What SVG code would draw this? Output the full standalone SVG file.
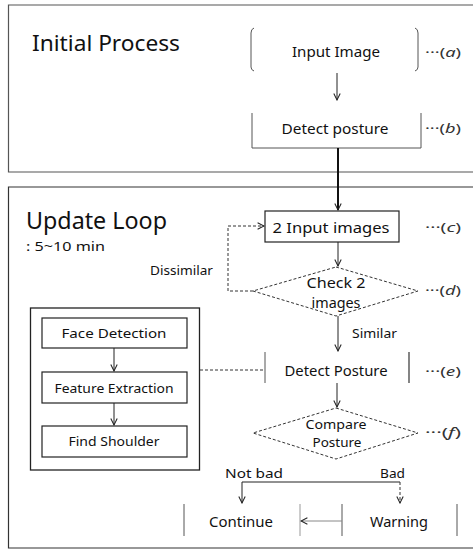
<svg xmlns="http://www.w3.org/2000/svg" width="473" height="550" viewBox="0 0 473 550">
<defs>
<style>
text{font-family:"Noto Sans","DejaVu Sans",sans-serif;fill:#111;dominant-baseline:central;}
.t{font-size:14px;text-anchor:middle;}
.lbl{font-size:13px;fill:#333;}
.box{fill:#fff;stroke:#222;stroke-width:1.2;}
.side{fill:none;stroke:#555;stroke-width:1;}
.ln{fill:none;stroke:#222;stroke-width:1;}
.dash{fill:none;stroke:#333;stroke-width:1;stroke-dasharray:3,2;}
</style>
<marker id="ah" viewBox="0 0 10 10" refX="9" refY="5" markerWidth="8" markerHeight="8" orient="auto" markerUnits="userSpaceOnUse">
<path d="M1,1 L9,5 L1,9" fill="none" stroke="#222" stroke-width="1.3"/>
</marker>
</defs>
<rect width="473" height="550" fill="#fff"/>

<g id="frame-initial">
<path d="M480,5 H8.5 V172 H480" fill="none" stroke="#555" stroke-width="1.2"/>
<text x="32" y="43" style="font-size:21px" textLength="148" lengthAdjust="spacingAndGlyphs">Initial Process</text>
</g>
<g id="frame-update">
<path d="M480,187 H8.5 V548 H480" fill="none" stroke="#333" stroke-width="1.2"/>
<text x="26" y="220" style="font-size:23px" textLength="141" lengthAdjust="spacingAndGlyphs">Update Loop</text>
<text x="26" y="246" style="font-size:13px" textLength="79" lengthAdjust="spacingAndGlyphs">: 5~10 min</text>
</g>

<g id="input-image">
<path d="M254,28 Q251,29 251,33 V67 Q251,70 254,71" class="side"/>
<path d="M415,28 Q418,29 418,33 V67 Q418,70 415,71" class="side"/>
<text x="336" y="51" class="t" textLength="88" lengthAdjust="spacingAndGlyphs">Input Image</text>
<text x="425" y="52" class="lbl" textLength="36" lengthAdjust="spacingAndGlyphs">···(<tspan font-style="italic">a</tspan>)</text>
</g>
<g id="detect-posture-b">
<path d="M252,113 V148 H421 V113" class="side"/>
<text x="335" y="128" class="t" textLength="107" lengthAdjust="spacingAndGlyphs">Detect posture</text>
<text x="425" y="128" class="lbl" textLength="36" lengthAdjust="spacingAndGlyphs">···(<tspan font-style="italic">b</tspan>)</text>
</g>

<g id="input-images-c">
<rect x="265" y="211" width="134" height="31" class="box"/>
<text x="331" y="227" class="t" style="font-size:15px" textLength="117" lengthAdjust="spacingAndGlyphs">2 Input images</text>
<text x="425" y="227" class="lbl" textLength="36" lengthAdjust="spacingAndGlyphs">···(<tspan font-style="italic">c</tspan>)</text>
</g>
<g id="check-d">
<polygon points="336,267 418,291 336,316 253,291" fill="#fff" class="dash"/>
<text x="336" y="282" class="t" textLength="59" lengthAdjust="spacingAndGlyphs">Check 2</text>
<text x="336" y="302" class="t" textLength="49" lengthAdjust="spacingAndGlyphs">images</text>
<text x="425" y="290" class="lbl" textLength="36" lengthAdjust="spacingAndGlyphs">···(<tspan font-style="italic">d</tspan>)</text>
</g>
<g id="detect-posture-e">
<line x1="265" y1="352" x2="265" y2="383" class="side"/>
<line x1="409" y1="352" x2="409" y2="383" stroke="#333" stroke-width="1.2"/>
<text x="336" y="370" class="t" textLength="103" lengthAdjust="spacingAndGlyphs">Detect Posture</text>
<text x="425" y="371" class="lbl" textLength="36" lengthAdjust="spacingAndGlyphs">···(<tspan font-style="italic">e</tspan>)</text>
</g>
<g id="compare-f">
<polygon points="336,408 418,433 336,459 253,433" fill="#fff" class="dash"/>
<text x="336" y="424" class="t" style="font-size:13px" textLength="61" lengthAdjust="spacingAndGlyphs">Compare</text>
<text x="337" y="442" class="t" style="font-size:13px" textLength="49" lengthAdjust="spacingAndGlyphs">Posture</text>
<text x="425" y="432" class="lbl" textLength="36" lengthAdjust="spacingAndGlyphs">···(<tspan font-style="italic">f</tspan>)</text>
</g>

<g id="sub-process">
<rect x="30.5" y="308" width="169" height="162" fill="none" stroke="#222" stroke-width="1.3"/>
</g>
<g id="face-detection">
<rect x="42" y="318" width="145" height="30" class="box"/>
<text x="114" y="333" class="t" style="font-size:13px" textLength="105" lengthAdjust="spacingAndGlyphs">Face Detection</text>
</g>
<g id="feature-extraction">
<rect x="42" y="372" width="145" height="31" class="box"/>
<text x="114" y="388" class="t" style="font-size:13px" textLength="119" lengthAdjust="spacingAndGlyphs">Feature Extraction</text>
</g>
<g id="find-shoulder">
<rect x="42" y="426" width="145" height="31" class="box"/>
<text x="114" y="441" class="t" style="font-size:13px" textLength="91" lengthAdjust="spacingAndGlyphs">Find Shoulder</text>
</g>

<g id="continue">
<line x1="184" y1="504" x2="184" y2="536" class="side"/>
<line x1="300" y1="504" x2="300" y2="536" stroke="#999" stroke-width="1"/>
<text x="241" y="521" class="t" textLength="64" lengthAdjust="spacingAndGlyphs">Continue</text>
</g>
<g id="warning">
<line x1="342" y1="504" x2="342" y2="536" class="side"/>
<line x1="457" y1="504" x2="457" y2="536" class="side"/>
<text x="399" y="521" class="t" textLength="58" lengthAdjust="spacingAndGlyphs">Warning</text>
</g>

<g id="connectors">
<line x1="337" y1="73" x2="337" y2="100" class="ln" marker-end="url(#ah)"/>
<line x1="338" y1="148" x2="338" y2="210" stroke="#111" stroke-width="2" marker-end="url(#ah)"/>
<line x1="338" y1="242" x2="338" y2="266" class="ln" marker-end="url(#ah)"/>
<path d="M253,291 H228 V226 H264" class="dash" marker-end="url(#ah)"/>
<text x="150" y="270" style="font-size:13px" textLength="63" lengthAdjust="spacingAndGlyphs">Dissimilar</text>
<line x1="338" y1="316" x2="338" y2="351" class="ln" marker-end="url(#ah)"/>
<text x="352" y="333" style="font-size:13px" textLength="45" lengthAdjust="spacingAndGlyphs">Similar</text>
<line x1="200" y1="370" x2="265" y2="370" class="dash" stroke-dasharray="4,2"/>
<line x1="114" y1="348" x2="114" y2="371" class="ln" marker-end="url(#ah)"/>
<line x1="114" y1="403" x2="114" y2="425" class="ln" marker-end="url(#ah)"/>
<line x1="337" y1="383" x2="337" y2="407" class="ln" marker-end="url(#ah)"/>
<path d="M400,482 H242 V503" class="ln" marker-end="url(#ah)"/>
<line x1="400" y1="482" x2="400" y2="503" class="dash" stroke-dasharray="2,1.5" marker-end="url(#ah)"/>
<text x="225" y="473" style="font-size:13px" textLength="58" lengthAdjust="spacingAndGlyphs">Not bad</text>
<text x="380" y="473" style="font-size:13px" textLength="25" lengthAdjust="spacingAndGlyphs">Bad</text>
<line x1="342" y1="521" x2="301" y2="521" stroke="#888" stroke-width="1" marker-end="url(#ah)"/>
</g>
</svg>
